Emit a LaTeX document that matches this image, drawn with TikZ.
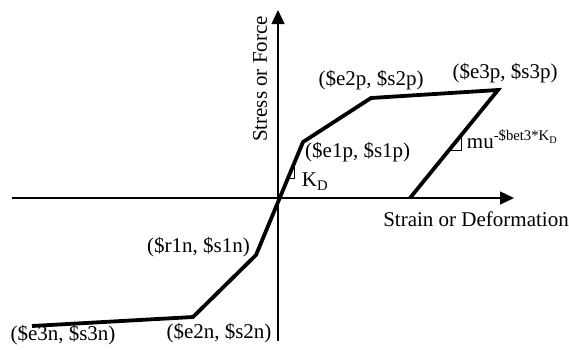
\documentclass[tikz,border=0pt]{standalone}
\usepackage{fontspec}
\setmainfont{Liberation Serif}
\usetikzlibrary{positioning,arrows.meta,calc}

\begin{document}
\begin{tikzpicture}[
    x=1pt, y=-1pt,
    >={Triangle[length=14pt, width=13pt]},
    font=\fontsize{21}{24}\selectfont,
    axis/.style  = {line width=1.4pt},
    curve/.style = {line width=3.8pt},
    slope/.style = {line width=1pt},
    lbl/.style   = {inner sep=0pt}
]
\useasboundingbox (0,0) rectangle (569,349);

% AXES
\coordinate (o)  at (278,198);
\coordinate (xl) at (12,198);
\coordinate (xr) at (514,198);
\coordinate (yb) at (278,341);
\coordinate (yt) at (278,10);
\draw[axis,->] (xl) -- (xr);
\draw[axis,->] (yb) -- (yt);

% BACKBONE
\coordinate (e1p) at (303,142);
\coordinate (e2p) at (371,98);
\coordinate (e3p) at (498,90);
\coordinate (r1n) at (256,255);
\coordinate (e2n) at (193,317);
\coordinate (e3n) at (32,326);
\coordinate (u0)  at (410,198);
\draw[curve] (e3n) -- (e2n) -- (r1n) -- (e1p) -- (e2p) -- (e3p) -- (u0);

% slope marks
\coordinate (k1) at ($(r1n)!0.814!(e1p)$);
\coordinate (k2) at ($(r1n)!0.673!(e1p)$);
\draw[slope] (k2) -| (k1);
\coordinate (m1) at ($(e3p)!0.42!(u0)$);
\coordinate (m2) at ($(e3p)!0.56!(u0)$);
\draw[slope] (m2) -| (m1);

% LABELS
\node[lbl, anchor=west]      (le1p) at ($(e1p)+(2,10)$)   {(\$e1p, \$s1p)};
\node[lbl]                   (le2p) at ($(e2p)+(0,-18)$)  {(\$e2p, \$s2p)};
\node[lbl]                   (le3p) at ($(e3p)+(7,-17)$)  {(\$e3p, \$s3p)};
\node[lbl, anchor=east]      (lr1n) at ($(r1n)+(-6,-8)$)  {(\$r1n, \$s1n)};
\node[lbl]                   (le2n) at ($(e2n)+(26,16)$)  {(\$e2n, \$s2n)};
\node[lbl]                   (le3n) at ($(e3n)+(31,9)$)   {(\$e3n, \$s3n)};
\node[lbl, anchor=base west] (lkd)  at ($(k2)+(14,8)$)    {K\textsubscript{D}};
\node[lbl, anchor=base west] (lmu)  at ($(m2)+(18,-2)$)
    {mu\textsuperscript{-\$bet3*K\textsubscript{D}}};

\node[lbl]                   (lx) at ($(xr)+(-38,21)$) {Strain or Deformation};
\node[lbl, rotate=90]        (ly) at ($(yt)+(-18,69)$) {Stress or Force};

\end{tikzpicture}
\end{document}
